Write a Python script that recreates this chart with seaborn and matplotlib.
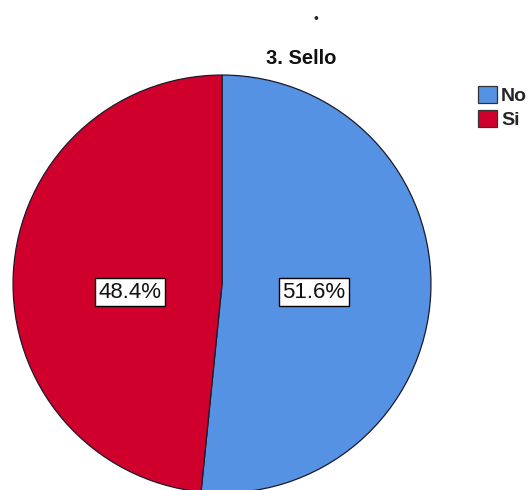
import matplotlib
matplotlib.use("Agg")
import matplotlib.pyplot as plt
import matplotlib.patches as mpatches
import seaborn as sns

# data
categories = ["No", "Si"]
percents = [51.6, 48.4]
colors = ["#5592E3", "#D0002D"]
title = "3. Sello"

sns.set_style("white")
plt.rcParams["font.family"] = ["Liberation Sans", "DejaVu Sans"]

fig = plt.figure(figsize=(5.31, 4.90), dpi=100)

# pie axes, placed so the bottom of the pie runs off the figure like the reference
ax = fig.add_axes([12 / 531, -4 / 490, 420 / 531, 420 / 490])
wedges, texts, autotexts = ax.pie(
    percents, colors=colors, startangle=90, counterclock=False,
    autopct="%1.1f%%", pctdistance=0.44,
    wedgeprops={"edgecolor": "#1a1a2a", "linewidth": 0.9},
    textprops={"fontsize": 16, "color": "#111111"},
)
# labels sit on one line just below the centre, like the reference
for t in autotexts:
    x, _ = t.get_position()
    t.set_position((x, -0.04))
    t.set_bbox({"facecolor": "white", "edgecolor": "black", "linewidth": 1.0, "pad": 2.5})
ax.set_xlim(-1.005, 1.005)
ax.set_ylim(-1.005, 1.005)
ax.set_aspect("equal")
ax.axis("off")

fig.text(301 / 531, 1 - 58 / 490, title, ha="center", va="center", fontsize=14.5,
         fontweight="bold", color="#111111")
fig.text(316 / 531, 1 - 19 / 490, "•", ha="center", va="center", fontsize=10)

handles = [mpatches.Patch(facecolor=c, edgecolor="#333333", linewidth=0.9, label=l)
           for c, l in zip(colors, categories)]
fig.legend(handles=handles, loc="upper left", bbox_to_anchor=(470 / 531, 1 - 78 / 490),
           frameon=False, fontsize=14, handlelength=1.0, handleheight=1.0,
           handletextpad=0.2, labelspacing=0.25, borderaxespad=0,
           prop={"weight": "bold", "size": 14})

fig.savefig("out.png", dpi=100)
